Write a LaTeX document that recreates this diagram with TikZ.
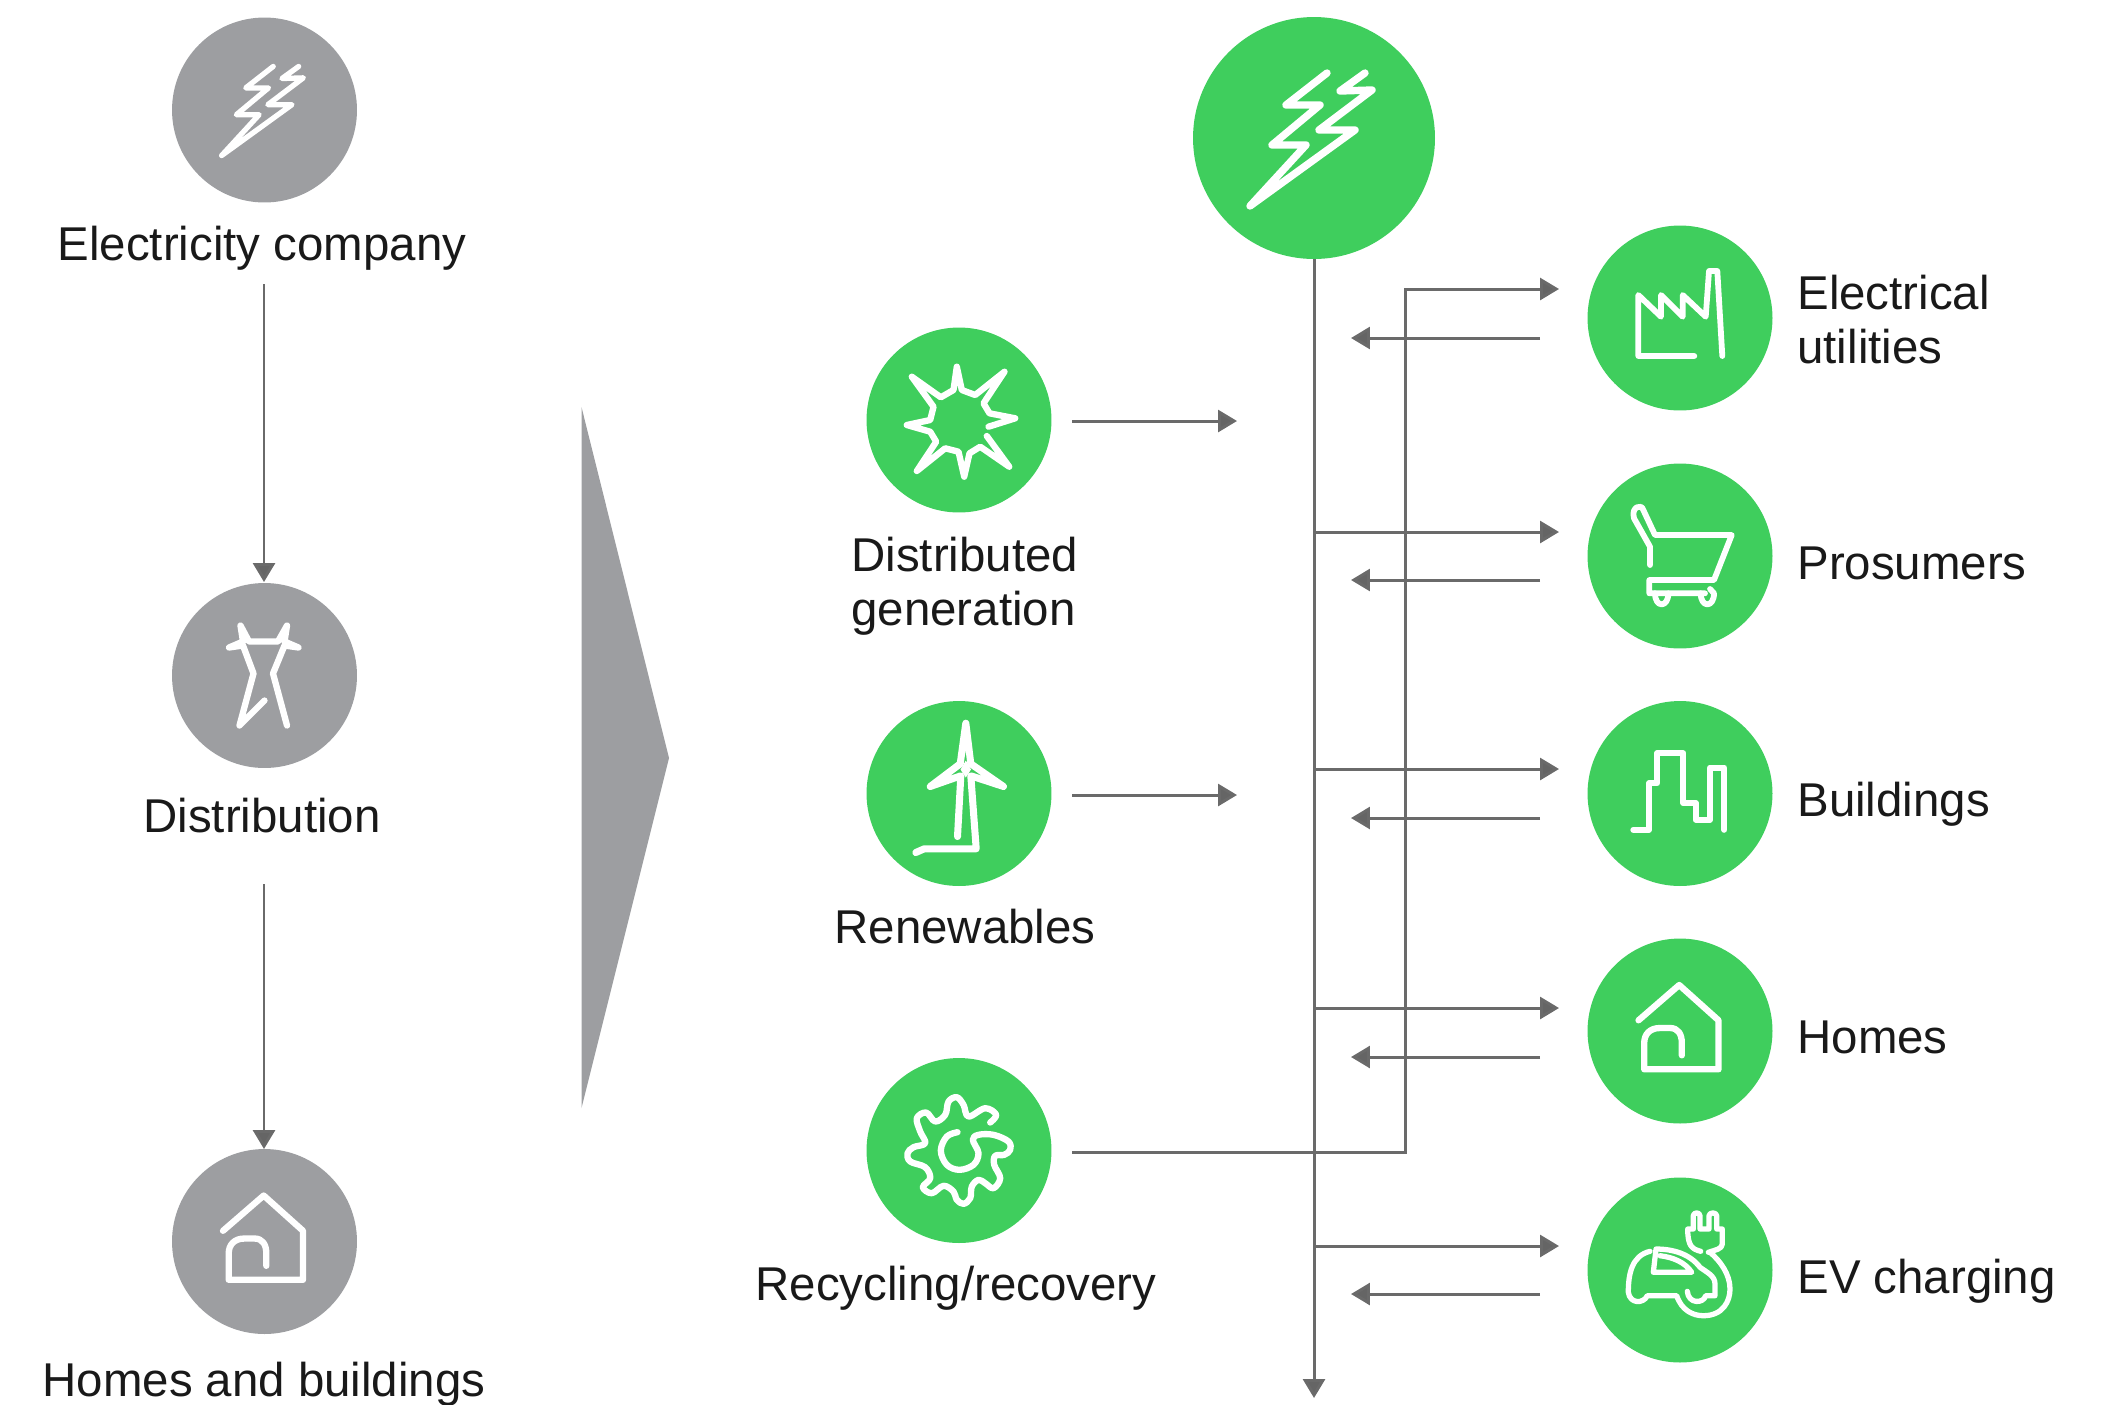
\documentclass[tikz,border=0pt]{standalone}
\usepackage{fontspec}
\setmainfont{Liberation Sans}
\usetikzlibrary{arrows.meta}
\definecolor{gridgreen}{HTML}{3FCE5D}
\definecolor{oldgray}{HTML}{9D9EA1}
\definecolor{linegray}{HTML}{6A6A6A}
\tikzset{
  greendot/.style={circle,fill=gridgreen,minimum size=3.7cm,inner sep=0pt},
  graydot/.style={circle,fill=oldgray,minimum size=3.7cm,inner sep=0pt},
  lbl/.style={anchor=base,inner sep=0pt,text=black!90,font=\fontsize{27}{30.6}\selectfont},
  flow/.style={draw=linegray,line width=1.7pt,-{Triangle[length=10.8pt,width=12.5pt,fill=linegray!95!black]}},
  icon/.style={draw=white,line width=3.6pt,line cap=round,line join=round},
  bolticon/.pic={
    \draw[icon] (13,-65) -- (-28,-33) -- (6,-33) -- (-42,7) -- (-8,7) -- (-64,68) -- (41,-8) -- (5,-8) -- (58,-48) -- (26,-47) -- (51,-65);
  },
  towericon/.pic={
    \draw[icon] (0,25) -- (-25,50) -- (-11,-2) -- (-21.5,-30) -- (-35.5,-28) -- (-21.5,-34) -- (-24,-50) -- (-15.5,-34) -- (13.5,-34) -- (22.5,-50) -- (20,-34) -- (34,-28) -- (20,-30) -- (8.5,-2) -- (22.5,50);
  },
  houseicon/.pic={
    \draw[icon] (-41.5,-10.7) -- (-0.8,-46) -- (38.5,-10.7) -- (38.5,38.3) -- (-35.8,38.3) -- (-35.8,12) .. controls (-35.8,3) and (-30,-3) .. (-20,-3) -- (-10,-3) .. controls (-2,-3) and (1.8,3) .. (1.8,12) -- (1.8,24.3);
  },
  sunicon/.pic={
    \draw[icon] (29.5,6.7) -- (56.2,-1.7) -- (30.5,-6.7) -- (24.5,-16.7) -- (45.5,-48.3) -- (16.2,-25) -- (2.8,-30) -- (-2.2,-53.3) -- (-5.5,-30) -- (-18.2,-22.7) -- (-47.2,-43.3) -- (-25.5,-13.3) -- (-28.8,0) -- (-52.2,5) -- (-28.8,11.7) -- (-22.8,21.7) -- (-42.2,51) -- (-13.8,28.3) -- (-0.5,31.7) -- (5.2,56.7) -- (10.5,33.3) -- (21.2,26.7) -- (50.2,46.7) -- (27.8,16);
  },
  windicon/.pic={
    \draw[icon,line width=4pt] (-1.5,43) -- (1.8,-17.7) -- (-28.8,-7) -- (1.2,-29.7) -- (6.8,-70.3) -- (11.8,-29.7) -- (44.5,-7) -- (11.8,-17.7) -- (17.2,55.3) -- (-34.8,55.3) -- (-43.2,59);
    \fill[white] (6.8,-33) -- (12,-24) -- (6.8,-16) -- (1.5,-24) -- cycle;
  },
  gearicon/.pic={
    \draw[icon] plot[smooth,tension=0.6] coordinates {(-1.5,-18.3) (-12.2,-14) (-18.2,0) (-12.2,14.3) (0.5,19.3) (14.5,14.3) (19.5,2.7) (13.8,-10.7) (19.5,-15.7) (34.5,-15.7) (49.5,-9) (51.2,-0.7) (45.2,4.3) (36.2,5.3) (35.2,14.3) (41.2,27.7) (34.5,37.7) (26.2,32.7) (19.5,29.3) (12.8,36) (11.2,47.7) (4.5,53.3) (-2.2,49.3) (-5.5,41) (-15.5,35.3) (-27.2,42.7) (-36.2,36.7) (-28.8,27.7) (-33.8,16.7) (-48.8,11) (-51.5,2.7) (-45.5,-3.3) (-33.8,-7.3) (-38.8,-19) (-42.2,-32.3) (-32.8,-38) (-23.8,-29) (-13.8,-35.7) (-10.5,-49) (-2.2,-53.3) (4.5,-45.7) (9.5,-34) (26.2,-42.3) (37.2,-35.7) (31.2,-28)};
  },
  factoryicon/.pic={
    \draw[icon,line width=3.3pt] (14.3,38) -- (-41.7,38) -- (-41.7,-23) -- (-19,-1.3) -- (-19,-23) -- (2.7,-1.3) -- (2.7,-23) -- (25.7,-1.3) -- (29,-47) -- (37.3,-47) -- (42.3,38);
  },
  carticon/.pic={
    \draw[icon,line width=3.3pt] (-30,9) -- (-30,-9.3) -- (-46,-37.7) .. controls (-49.3,-49.3) and (-38.3,-52.7) .. (-36.7,-46) -- (-25,-21) -- (51.7,-21) -- (34,24) -- (-30.7,24) -- (-30.7,37.3) -- (25,37.3);
    \draw[icon,line width=3.3pt] (-25,37.3) .. controls (-25,52) and (-11.7,52) .. (-11.7,37.3);
    \draw[icon,line width=3.3pt] (20.7,37.3) .. controls (20.7,52) and (34,52) .. (34,37.3) -- (30,33);
  },
  blockicon/.pic={
    \draw[icon,line width=3.4pt] (-46.7,36.3) -- (-31,36.3) -- (-31,-10.3) -- (-22.7,-10.3) -- (-22.7,-40.3) -- (3.3,-40.3) -- (3.3,9.7) -- (15.7,9.7) -- (15.7,26.3) -- (30,26.3) -- (30,-26) -- (44.3,-26) -- (44.3,36.3);
  },
  evicon/.pic={
    \draw[icon,line width=3pt] (-30,-18.7) .. controls (-48.3,-14.3) and (-51.7,4) .. (-51.7,22.3) .. controls (-50,34) and (-36.7,34) .. (-32.7,25.7) -- (-3.3,25.7) .. controls (1.7,40.7) and (13.3,45.7) .. (23.3,45.7) .. controls (43.3,45.7) and (50,30.7) .. (50,19) .. controls (50,4) and (40,-9.3) .. (30,-17.7);
    \draw[icon,line width=3pt] (7.3,21.3) .. controls (8.3,34) and (23.3,34) .. (25.7,25.7) -- (35,25.7) -- (35,14) .. controls (35,5.7) and (26.7,2.3) .. (20,-2.7) .. controls (10,-16) and (-6.7,-21) .. (-24,-21) -- (-26.7,2.3) -- (11.7,2.3) .. controls (5,-7.7) and (-6.7,-12.7) .. (-20,-14.3);
    \draw[icon,line width=3pt] (20.7,-18.7) .. controls (11.7,-21) and (7.7,-24.3) .. (7.7,-41) -- (13.3,-41) -- (13.3,-54.3) .. controls (13.3,-58) and (20,-58) .. (20,-54.3) -- (20,-41) -- (29,-41) -- (29,-54.3) .. controls (29,-58) and (36.7,-58) .. (36.7,-54.3) -- (36.7,-41) -- (42.3,-41) -- (42.3,-26) .. controls (42.3,-21) and (35,-20) .. (28.3,-17.7);
  }
}

\begin{document}
\begin{tikzpicture}[x=0.02cm,y=-0.02cm]
\useasboundingbox (0,0) rectangle (2111,1404);

    \node[graydot] (company) at (264.5,110) {};
    \node[graydot] (dist) at (264.5,675.5) {};
    \node[graydot] (oldhomes) at (264.5,1241.5) {};
    \pic[scale=0.67,icon/.append style={line width=3pt}] at (company) {bolticon};
    \pic at (dist) {towericon};
    \pic at (oldhomes) {houseicon};

    \node[lbl] (companylbl) at (262,260) {Electricity company};
    \node[lbl] (distlbl) at (262,832) {Distribution};
    \node[lbl] (oldhomeslbl) at (264,1396) {Homes and buildings};

    \coordinate (companyout) at (264,284);
    \coordinate (distout) at (264,884);
    \coordinate (distin) at (264,582);
    \coordinate (oldhomesin) at (264,1149);
    \draw[flow] (companyout) -- (distin);
    \draw[flow] (distout) -- (oldhomesin);

    \fill[oldgray] (581.5,407) -- (669,758) -- (581.5,1108) -- cycle;

    \node[greendot,minimum size=4.84cm] (grid) at (1314,138) {};
    \node[greendot] (sun) at (959,420) {};
    \node[greendot] (wind) at (959,793.5) {};
    \node[greendot] (gear) at (959,1150.5) {};
    \node[greendot] (factory) at (1680,318) {};
    \node[greendot] (cart) at (1680,556) {};
    \node[greendot] (block) at (1680,793.5) {};
    \node[greendot] (home) at (1680,1031) {};
    \node[greendot] (ev) at (1680,1270) {};

    \pic[icon/.append style={line width=4.2pt}] at (grid) {bolticon};
    \pic at (sun) {sunicon};
    \pic at (wind) {windicon};
    \pic at (gear) {gearicon};
    \pic at (factory) {factoryicon};
    \pic at (cart) {carticon};
    \pic at (block) {blockicon};
    \pic at (home) {houseicon};
    \pic at (ev) {evicon};

    \node[lbl,anchor=base west] (sunlbl) at (851,571) {Distributed};
    \node[lbl,anchor=base west] (sunlblb) at (851,625) {generation};
    \node[lbl] (windlbl) at (965,943) {Renewables};
    \node[lbl] (gearlbl) at (956,1300) {Recycling/recovery};
    \node[lbl,anchor=base west] (factorylbl) at (1797,309) {Electrical};
    \node[lbl,anchor=base west] (factorylblb) at (1797,363) {utilities};
    \node[lbl,anchor=base west] (cartlbl) at (1797,579) {Prosumers};
    \node[lbl,anchor=base west] (blocklbl) at (1797,816) {Buildings};
    \node[lbl,anchor=base west] (homelbl) at (1797,1053) {Homes};
    \node[lbl,anchor=base west] (evlbl) at (1797,1293) {EV charging};

    \coordinate (busend) at (1314,1398);
    \draw[flow] (grid) -- (busend);

    \coordinate (sunout) at (1072,421);
    \coordinate (sunin) at (1237,421);
    \coordinate (windout) at (1072,795);
    \coordinate (windin) at (1237,795);
    \draw[flow] (sunout) -- (sunin);
    \draw[flow] (windout) -- (windin);

    \coordinate (gearout) at (1072,1152);
    \coordinate (gearup) at (1405,1152);
    \coordinate (factoryin) at (1559,289);
    \draw[flow] (gearout) -- (gearup) |- (factoryin);

    \coordinate (cartfrom) at (1314,532);
    \coordinate (cartin) at (1559,532);
    \coordinate (blockfrom) at (1314,769);
    \coordinate (blockin) at (1559,769);
    \coordinate (homefrom) at (1314,1008);
    \coordinate (homein) at (1559,1008);
    \coordinate (evfrom) at (1314,1246);
    \coordinate (evin) at (1559,1246);
    \draw[flow] (cartfrom) -- (cartin);
    \draw[flow] (blockfrom) -- (blockin);
    \draw[flow] (homefrom) -- (homein);
    \draw[flow] (evfrom) -- (evin);

    \coordinate (factoryout) at (1540,338);
    \coordinate (factoryback) at (1351,338);
    \coordinate (cartout) at (1540,580);
    \coordinate (cartback) at (1351,580);
    \coordinate (blockout) at (1540,818);
    \coordinate (blockback) at (1351,818);
    \coordinate (homeout) at (1540,1057);
    \coordinate (homeback) at (1351,1057);
    \coordinate (evout) at (1540,1294);
    \coordinate (evback) at (1351,1294);
    \draw[flow] (factoryout) -- (factoryback);
    \draw[flow] (cartout) -- (cartback);
    \draw[flow] (blockout) -- (blockback);
    \draw[flow] (homeout) -- (homeback);
    \draw[flow] (evout) -- (evback);
\end{tikzpicture}
\end{document}
